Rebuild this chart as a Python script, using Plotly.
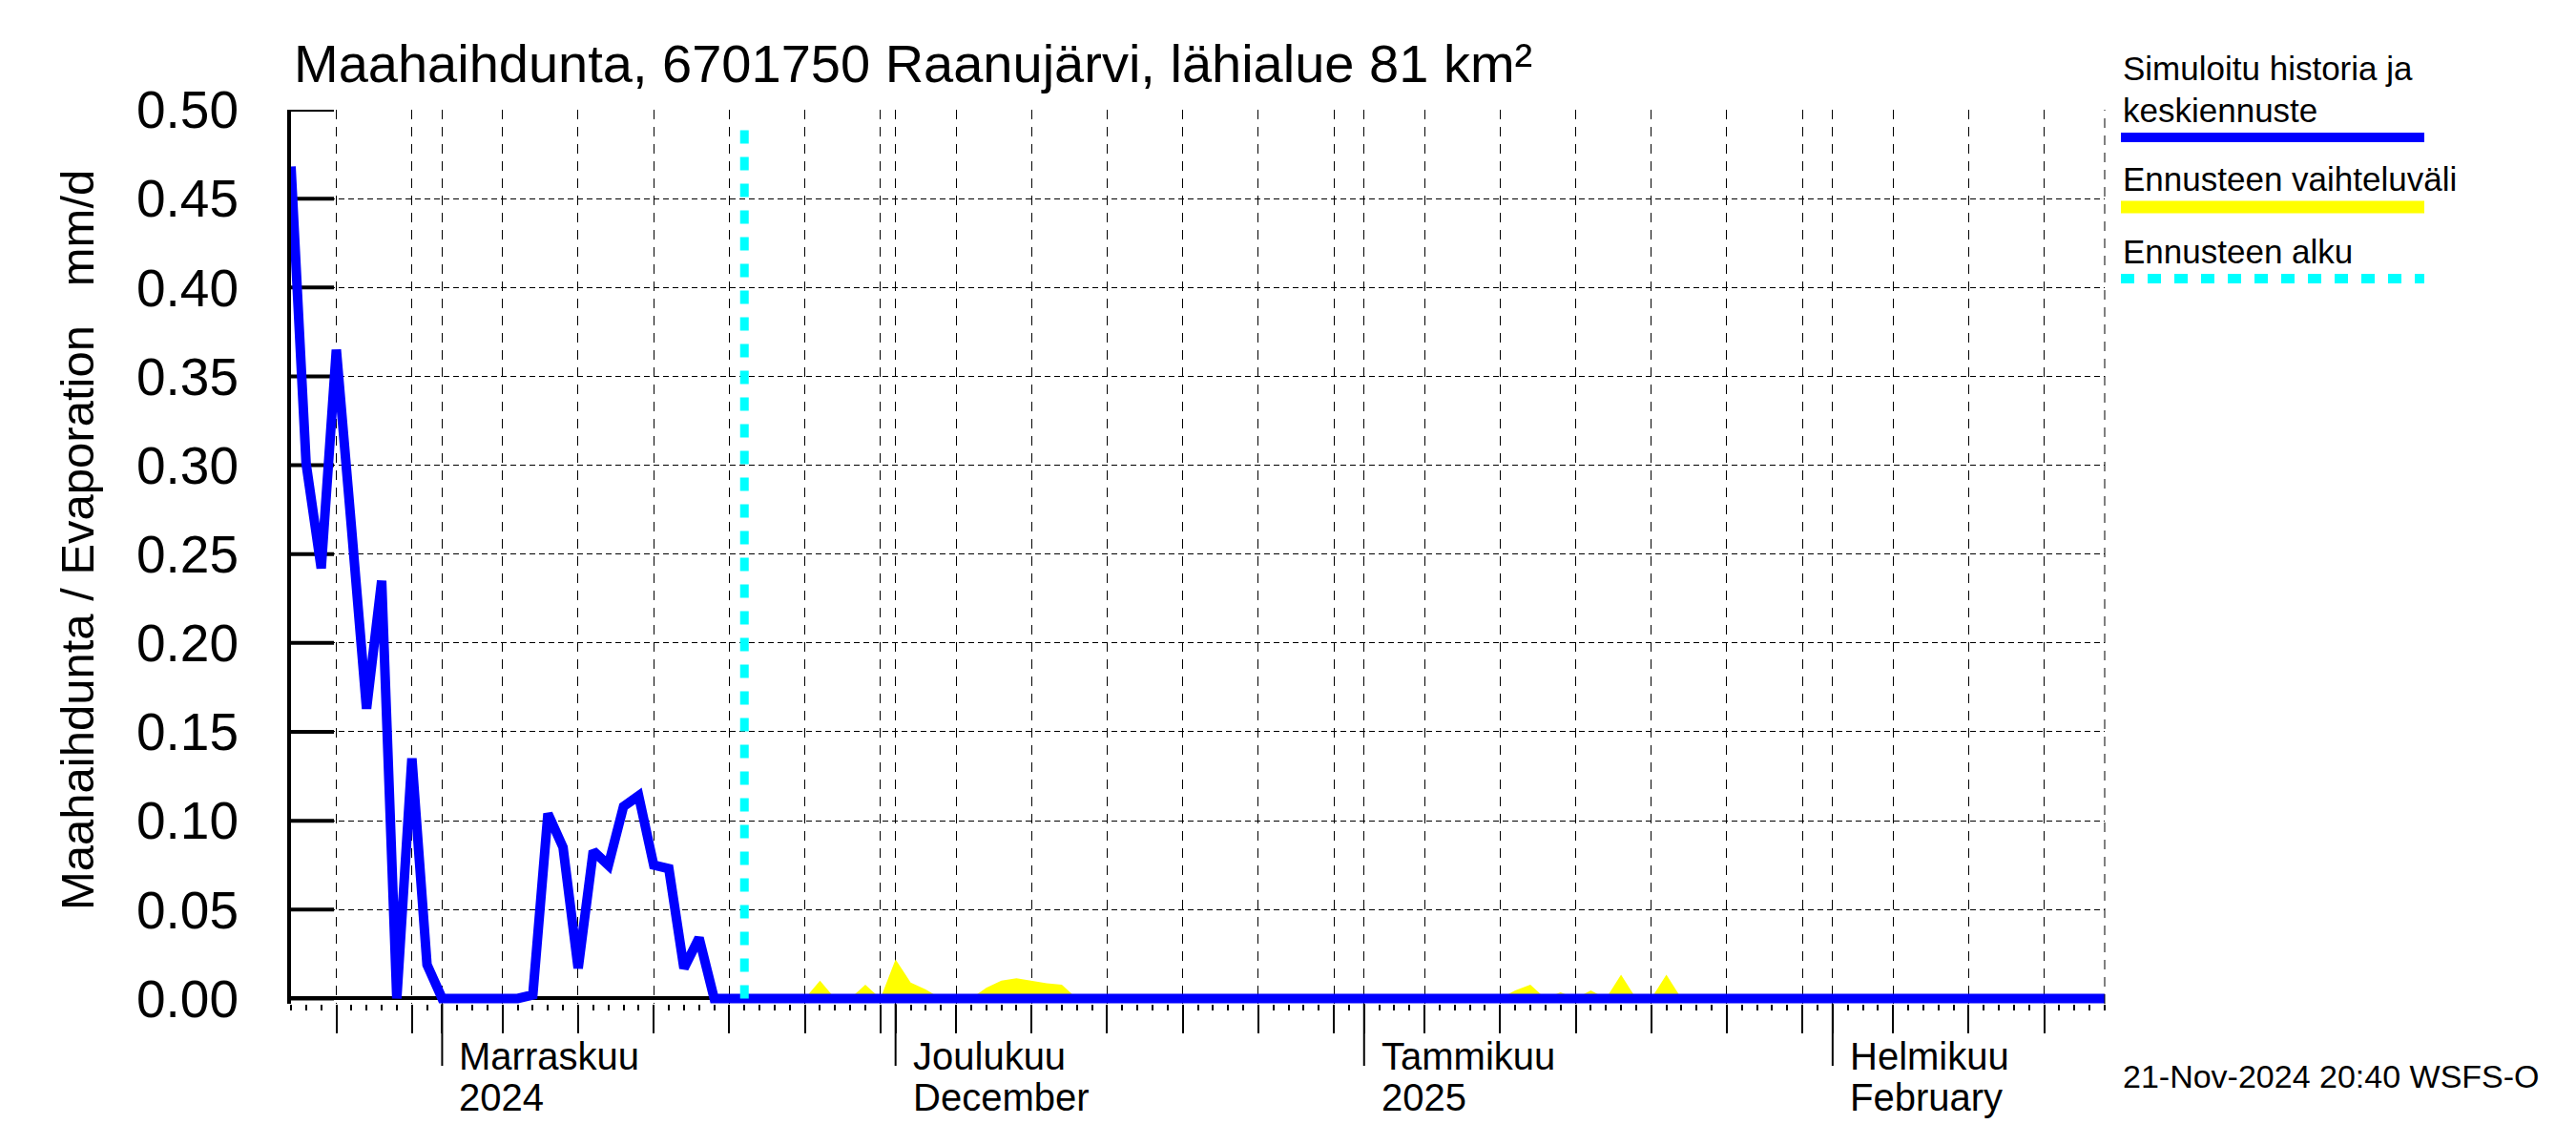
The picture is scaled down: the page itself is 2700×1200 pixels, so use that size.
import plotly.graph_objects as go
import pandas as pd

# ---------------- data ----------------
hist_start = "2024-10-22"
hist_values = [0.468, 0.301, 0.242, 0.365, 0.265, 0.163, 0.235, 0.0, 0.135, 0.019,
               0.0, 0.0, 0.0, 0.0, 0.0, 0.0, 0.002, 0.104, 0.085, 0.017,
               0.083, 0.075, 0.108, 0.114, 0.075, 0.073, 0.017, 0.034, 0.0, 0.0, 0.0]
median_dates = ["2024-11-21", "2025-02-19"]
median_values = [0.0, 0.0]

band_dates = ["2024-11-21", "2024-11-25", "2024-11-26", "2024-11-27", "2024-11-28", "2024-11-29",
              "2024-11-30", "2024-12-01", "2024-12-02", "2024-12-03", "2024-12-04", "2024-12-06",
              "2024-12-07", "2024-12-08", "2024-12-09", "2024-12-10", "2024-12-11", "2024-12-12",
              "2024-12-13", "2025-01-10", "2025-01-11", "2025-01-12", "2025-01-13", "2025-01-14",
              "2025-01-15", "2025-01-16", "2025-01-17", "2025-01-18", "2025-01-19", "2025-01-20",
              "2025-01-21", "2025-01-22", "2025-02-19"]
band_upper = [0.0, 0.0, 0.010, 0.0, 0.0, 0.0077,
              0.0, 0.022, 0.009, 0.005, 0.0, 0.0,
              0.006, 0.010, 0.0113, 0.0099, 0.0086, 0.0077,
              0.0, 0.0, 0.0045, 0.0078, 0.0, 0.0035,
              0.0, 0.0045, 0.0, 0.0134, 0.0, 0.0,
              0.0134, 0.0, 0.0]

forecast_start = "2024-11-21"
x_range = ["2024-10-22", "2025-02-19"]
y_range = [-0.003, 0.5]
y_ticks = [0.0, 0.05, 0.10, 0.15, 0.20, 0.25, 0.30, 0.35, 0.40, 0.45, 0.50]

month_starts = ["2024-11-01", "2024-12-01", "2025-01-01", "2025-02-01"]
month_fi = ["Marraskuu", "Joulukuu", "Tammikuu", "Helmikuu"]
month_sub = ["2024", "December", "2025", "February"]
grid_days = [5, 10, 15, 20, 25, 30]
grid_months = ["2024-10", "2024-11", "2024-12", "2025-01", "2025-02"]

title_text = "Maahaihdunta, 6701750 Raanujärvi, lähialue 81 km²"
ytitle_text = "Maahaihdunta / Evaporation\u00a0\u00a0\u00a0mm/d"
legend_labels = ["Simuloitu historia ja", "keskiennuste", "Ennusteen vaihteluväli", "Ennusteen alku"]
stamp_text = "21-Nov-2024 20:40 WSFS-O"

# ---------------- derived ----------------
hist_dates = pd.date_range(hist_start, periods=len(hist_values), freq="D")
line_x = list(hist_dates) + [pd.Timestamp(d) for d in median_dates[1:]]
line_y = hist_values + median_values[1:]

grid_dates = []
for m in grid_months:
    grid_dates.append(m + "-01")
    for d in grid_days:
        try:
            ts = pd.Timestamp(f"{m}-{d:02d}")
        except Exception:
            continue
        grid_dates.append(ts.strftime("%Y-%m-%d"))
grid_dates = [g for g in grid_dates if x_range[0] < g < x_range[1]]

W, H = 2700, 1200
L, R, T, B = 305, 2206, 115, 1052
FONT = "Liberation Sans, Arial, sans-serif"


def px(xp):
    return (xp - L) / (R - L)


def py(yp):
    return (B - yp) / (B - T)


fig = go.Figure()
fig.add_trace(go.Scatter(x=band_dates, y=band_upper, mode="lines", fill="tozeroy",
                         fillcolor="#FFFF00", line=dict(width=0, color="#FFFF00"),
                         hoverinfo="skip", showlegend=False))
fig.add_trace(go.Scatter(x=line_x, y=line_y, mode="lines",
                         line=dict(color="#0000FF", width=10), showlegend=False))

shapes = []
# inside y ticks
for v in y_ticks:
    shapes.append(dict(type="line", xref="paper", yref="y", x0=0, x1=45 / (R - L),
                       y0=v, y1=v, line=dict(color="black", width=4), layer="between"))
# long month ticks below axis
for d in month_starts:
    shapes.append(dict(type="line", xref="x", yref="y domain", x0=d, x1=d,
                       y0=0, y1=-65 / (B - T), line=dict(color="black", width=2)))
# forecast start line
shapes.append(dict(type="line", xref="x", yref="y domain", x0=forecast_start, x1=forecast_start,
                   y0=0.006, y1=0.988, line=dict(color="#00FFFF", width=9, dash="14px,14px"),
                   layer="above"))
# right frame dashed
shapes.append(dict(type="line", xref="x domain", yref="y domain", x0=1, x1=1, y0=0, y1=1,
                   line=dict(color="black", width=1, dash="10px,8px")))
# legend samples
shapes.append(dict(type="line", xref="paper", yref="paper", x0=px(2223), x1=px(2541),
                   y0=py(144), y1=py(144), line=dict(color="#0000FF", width=10)))
shapes.append(dict(type="line", xref="paper", yref="paper", x0=px(2223), x1=px(2541),
                   y0=py(217), y1=py(217), line=dict(color="#FFFF00", width=13)))
shapes.append(dict(type="line", xref="paper", yref="paper", x0=px(2223), x1=px(2541),
                   y0=py(292), y1=py(292), line=dict(color="#00FFFF", width=10, dash="14px,14px")))

ann = []
ann.append(dict(text=title_text, xref="paper", yref="paper", x=px(306), y=py(67),
                xanchor="left", yanchor="middle", showarrow=False,
                font=dict(family=FONT, size=56, color="black")))
ann.append(dict(text=ytitle_text, xref="paper", yref="paper", x=px(81), y=py(566),
                xanchor="center", yanchor="middle", textangle=-90, showarrow=False,
                font=dict(family=FONT, size=49, color="black")))
for lab, yc in zip(legend_labels, [72, 115, 188, 263]):
    ann.append(dict(text=lab, xref="paper", yref="paper", x=px(2223), y=py(yc),
                    xanchor="left", yanchor="middle", showarrow=False,
                    font=dict(family=FONT, size=35, color="black")))
ann.append(dict(text=stamp_text, xref="paper", yref="paper", x=px(2223), y=py(1128),
                xanchor="left", yanchor="middle", showarrow=False,
                font=dict(family=FONT, size=34, color="black")))
for d, a, b in zip(month_starts, month_fi, month_sub):
    ann.append(dict(text=a, xref="x", yref="paper", x=d, y=py(1107), xshift=16,
                    xanchor="left", yanchor="middle", showarrow=False,
                    font=dict(family=FONT, size=40, color="black")))
    ann.append(dict(text=b, xref="x", yref="paper", x=d, y=py(1150), xshift=16,
                    xanchor="left", yanchor="middle", showarrow=False,
                    font=dict(family=FONT, size=40, color="black")))

fig.update_layout(
    width=W, height=H, autosize=False,
    margin=dict(l=L, r=W - R, t=T, b=H - B, pad=0),
    paper_bgcolor="white", plot_bgcolor="white",
    showlegend=False,
    shapes=shapes, annotations=ann,
    xaxis=dict(type="date", range=x_range, tickmode="array", tickvals=grid_dates,
               ticks="outside", ticklen=30, tickwidth=2, tickcolor="black",
               showticklabels=False, showgrid=True, gridcolor="black", gridwidth=1,
               griddash="10px,8px", showline=False, zeroline=False,
               minor=dict(tickmode="linear", tick0=x_range[0], dtick=86400000,
                          ticks="outside", ticklen=6, tickwidth=2, tickcolor="black",
                          showgrid=False)),
    yaxis=dict(range=y_range, tickmode="array", tickvals=y_ticks, tickformat=".2f",
               ticks="", showline=True, linewidth=4, linecolor="black",
               showgrid=True, gridcolor="black", gridwidth=1, griddash="6px,4px",
               zeroline=True, zerolinecolor="black", zerolinewidth=4,
               ticklabelstandoff=40,
               tickfont=dict(family=FONT, size=55, color="black")),
)

fig.write_html("out.html", config={"displayModeBar": False},
               post_script="document.body.style.margin='0';document.body.style.overflow='hidden';")
